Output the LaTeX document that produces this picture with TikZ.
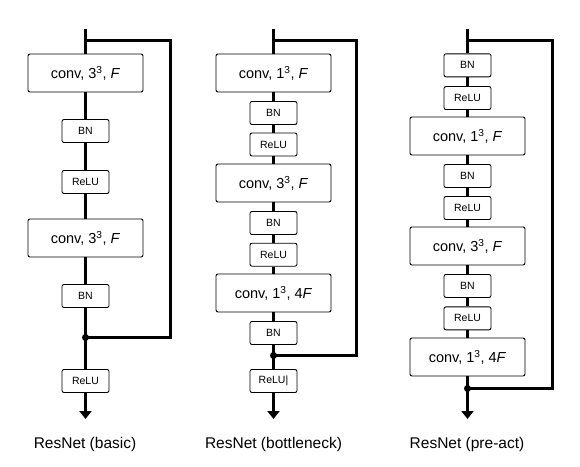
\documentclass[tikz,border=0pt]{standalone}
\usepackage{fontspec}
\setmainfont{Liberation Sans}
\usetikzlibrary{arrows.meta}
\tikzstyle{conv}=[draw,rounded corners=2pt,line width=0.9pt,fill=white,minimum width=115pt,minimum height=38pt,inner sep=0pt,font=\fontsize{14.5}{17}\selectfont]
\tikzstyle{small}=[draw,rounded corners=2pt,line width=0.9pt,fill=white,minimum width=47pt,minimum height=23pt,inner sep=0pt,font=\fontsize{10.5}{12}\selectfont]
\tikzstyle{main}=[line width=3pt]
\tikzstyle{outarrow}=[line width=3pt,-{Triangle[width=12pt,length=8pt]}]
\tikzstyle{title}=[font=\fontsize{15.5}{18}\selectfont]
\newcommand{\convtxt}[2]{conv, #1\textsuperscript{3}, #2\textit{F}}

\begin{document}
\begin{tikzpicture}[x=1pt,y=-1pt]
\useasboundingbox (0,0) rectangle (580,466);

% basic
\node[conv] (bc1) at (85.5,73) {\convtxt{3}{}};
\node[small] (bb1) at (85.5,131) {BN};
\node[small] (br1) at (85.5,182) {ReLU};
\node[conv] (bc2) at (85.5,238) {\convtxt{3}{}};
\node[small] (bb2) at (85.5,296) {BN};
\node[small] (br2) at (85.5,381) {ReLU};
\coordinate (bin) at (85.5,29);
\coordinate (bs) at (85.5,40.5);
\coordinate (bk) at (170.5,337.5);
\coordinate (bj) at (85.5,337.5);
\coordinate (bout) at (85.5,419);
\node[title] (tb) at (85,444) {ResNet (basic)};

\draw[main] (bin) -- (bc1) -- (bb1) -- (br1) -- (bc2) -- (bb2) -- (bj) -- (br2);
\draw[outarrow] (br2) -- (bout);
\draw[main] (bs) -| (bk) -- (bj);
\fill (bj) circle (3.5pt);

% bottleneck
\node[conv] (kc1) at (273.5,73) {\convtxt{1}{}};
\node[small] (kb1) at (273.5,113) {BN};
\node[small] (kr1) at (273.5,144.5) {ReLU};
\node[conv] (kc2) at (273.5,183) {\convtxt{3}{}};
\node[small] (kb2) at (273.5,223) {BN};
\node[small] (kr2) at (273.5,254.7) {ReLU};
\node[conv] (kc3) at (273.5,293) {\convtxt{1}{4}};
\node[small] (kb3) at (273.5,333) {BN};
\node[small] (kr3) at (273.5,381) {ReLU|};
\coordinate (kin) at (273.5,29);
\coordinate (ks) at (273.5,40.5);
\coordinate (kk) at (356.5,355.5);
\coordinate (kj) at (273.5,355.5);
\coordinate (kout) at (273.5,419);
\node[title] (tk) at (273.5,444) {ResNet (bottleneck)};

\draw[main] (kin) -- (kc1) -- (kb1) -- (kr1) -- (kc2) -- (kb2) -- (kr2) -- (kc3) -- (kb3) -- (kj) -- (kr3);
\draw[outarrow] (kr3) -- (kout);
\draw[main] (ks) -| (kk) -- (kj);
\fill (kj) circle (3.5pt);

% pre-act
\node[small] (pb1) at (467.5,65.3) {BN};
\node[small] (pr1) at (467.5,98) {ReLU};
\node[conv] (pc1) at (467.5,136) {\convtxt{1}{}};
\node[small] (pb2) at (467.5,176) {BN};
\node[small] (pr2) at (467.5,208) {ReLU};
\node[conv] (pc2) at (467.5,246) {\convtxt{3}{}};
\node[small] (pb3) at (467.5,286) {BN};
\node[small] (pr3) at (467.5,318.3) {ReLU};
\node[conv] (pc3) at (467.5,357) {\convtxt{1}{4}};
\coordinate (pin) at (467.5,29);
\coordinate (ps) at (467.5,40.5);
\coordinate (pk) at (552.5,388.5);
\coordinate (pj) at (467.5,388.5);
\coordinate (pout) at (467.5,419);
\node[title] (tp) at (467,444) {ResNet (pre-act)};

\draw[main] (pin) -- (pb1) -- (pr1) -- (pc1) -- (pb2) -- (pr2) -- (pc2) -- (pb3) -- (pr3) -- (pc3) -- (pj);
\draw[outarrow] (pj) -- (pout);
\draw[main] (ps) -| (pk) -- (pj);
\fill (pj) circle (3.5pt);

\end{tikzpicture}
\end{document}
